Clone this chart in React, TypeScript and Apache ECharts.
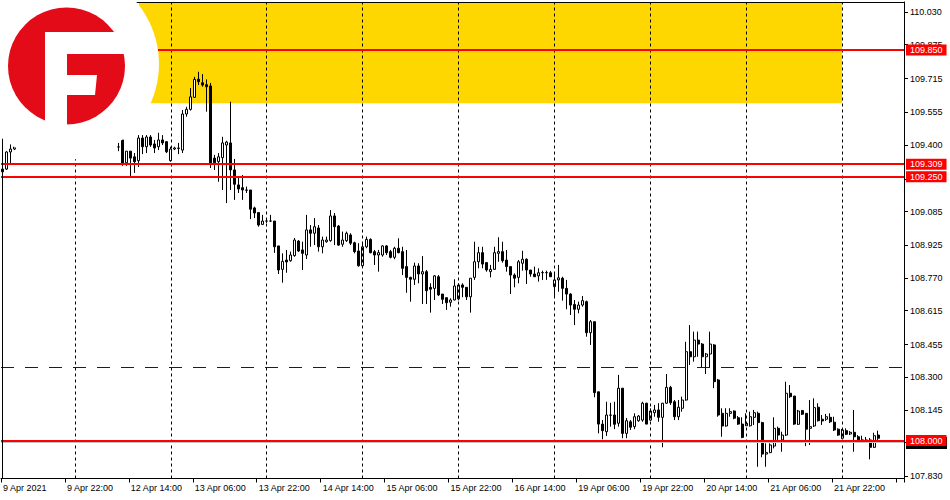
import React, { useEffect, useRef } from 'react';
import * as echarts from 'echarts';

// Trading days shown (H1 bars, first day starts at 06:00)
const DAYS = ['9 Apr', '12 Apr', '13 Apr', '14 Apr', '15 Apr', '16 Apr', '19 Apr', '20 Apr', '21 Apr', '22 Apr'];
const FIRST_HOUR = 6;
const BAR_COUNT = 226;

const TICK_LABELS = [
  '9 Apr 2021', '9 Apr 22:00', '12 Apr 14:00', '13 Apr 06:00', '13 Apr 22:00', '14 Apr 14:00',
  '15 Apr 06:00', '15 Apr 22:00', '16 Apr 14:00', '19 Apr 06:00', '19 Apr 22:00', '20 Apr 14:00',
  '21 Apr 06:00', '21 Apr 22:00',
];

// price scale ticks (all), and the ones whose labels are not hidden behind level tags
const PRICE_TICKS = [110.03, 109.875, 109.715, 109.555, 109.4, 109.24, 109.085, 108.925, 108.77, 108.615, 108.455, 108.3, 108.145, 107.99, 107.83];
const PRICE_LABELS = [110.03, 109.875, 109.715, 109.555, 109.4, 109.085, 108.925, 108.77, 108.615, 108.455, 108.3, 108.145, 107.83];

const RED_LEVELS = [109.85, 109.309, 109.25, 108.0];
const DASHED_LEVEL = 108.348;
const BID_LEVEL = 107.992;
const ZONE_LOW = 109.598;
const Y_MIN = 107.8203;
const Y_MAX = 110.0775;

const N = null;
const OPEN = [
  109.273, 109.286, 109.367, 109.381, N, N, N, N, N, N,
  N, N, N, N, N, N, N, N, N, N,
  N, N, N, N, N, N, N, N, N, 109.391,
  109.424, 109.316, 109.371, 109.344, 109.326, 109.433, 109.392, 109.438, 109.405, 109.392,
  109.424, 109.416, 109.326, 109.381, 109.384, 109.376, 109.547, 109.569, 109.626, 109.712,
  109.695, 109.686, 109.680, 109.338, 109.321, 109.340, 109.400, 109.410, 109.282, 109.211,
  109.198, 109.187, 109.187, 109.102, 109.080, 109.024, 109.040, 109.040, 109.040, 108.922,
  108.811, 108.855, 108.852, 108.876, 108.945, 108.903, 108.879, 108.998, 108.982, 109.007,
  108.918, 108.942, 108.947, 109.064, 109.016, 108.930, 108.947, 108.974, 108.937, 108.898,
  108.828, 108.918, 108.953, 108.895, 108.879, 108.879, 108.922, 108.895, 108.868, 108.911,
  108.895, 108.824, 108.773, 108.764, 108.827, 108.789, 108.800, 108.726, 108.721, 108.776,
  108.694, 108.677, 108.655, 108.666, 108.671, 108.737, 108.726, 108.681, 108.773, 108.847,
  108.890, 108.843, 108.800, 108.811, 108.887, 108.895, 108.855, 108.824, 108.784, 108.773,
  108.840, 108.859, 108.808, 108.789, 108.780, 108.795, 108.795, 108.795, 108.729, 108.761,
  108.769, 108.721, 108.694, 108.645, 108.622, 108.642, 108.658, 108.511, 108.563, 108.231,
  108.078, 108.042, 108.121, 108.121, 108.082, 108.248, 108.034, 108.089, 108.066, 108.094,
  108.097, 108.177, 108.097, 108.132, 108.145, 108.110, 108.177, 108.252, 108.184, 108.113,
  108.153, 108.192, 108.421, 108.397, 108.476, 108.457, 108.397, 108.410, 108.453, 108.287,
  108.129, 108.069, 108.129, 108.140, 108.108, 108.078, 108.070, 108.070, 108.110, 108.129,
  108.085, 107.936, 107.943, 107.974, 108.058, 108.003, 108.026, 108.224, 108.211, 108.077,
  108.142, 108.129, 108.058, 108.069, 108.158, 108.101, 108.101, 108.110, 108.087, 108.054,
  108.011, 108.047, 108.031, 108.039, 108.018, 108.003, 108.003, 108.003, 107.968, 108.026,
];
const CLOSE = [
  109.286, 109.367, 109.381, 109.391, N, N, N, N, N, N,
  N, N, N, N, N, N, N, N, N, N,
  N, N, N, N, N, N, N, N, N, 109.391,
  109.315, 109.371, 109.338, 109.321, 109.433, 109.392, 109.438, 109.400, 109.386, 109.424,
  109.410, 109.368, 109.381, 109.386, 109.386, 109.547, 109.569, 109.628, 109.711, 109.700,
  109.684, 109.676, 109.315, 109.316, 109.344, 109.410, 109.414, 109.282, 109.214, 109.192,
  109.187, 109.186, 109.096, 109.078, 109.021, 109.040, 109.040, 109.040, 108.918, 108.808,
  108.849, 108.846, 108.879, 108.950, 108.898, 108.887, 108.998, 108.982, 109.013, 108.918,
  108.950, 108.950, 109.064, 109.013, 108.926, 108.950, 108.982, 108.935, 108.895, 108.828,
  108.918, 108.953, 108.890, 108.879, 108.890, 108.922, 108.890, 108.868, 108.911, 108.890,
  108.816, 108.773, 108.764, 108.827, 108.789, 108.800, 108.710, 108.717, 108.780, 108.690,
  108.669, 108.653, 108.666, 108.732, 108.737, 108.726, 108.681, 108.769, 108.847, 108.890,
  108.836, 108.808, 108.811, 108.890, 108.895, 108.852, 108.824, 108.784, 108.769, 108.847,
  108.859, 108.808, 108.789, 108.776, 108.795, 108.796, 108.796, 108.776, 108.761, 108.771,
  108.721, 108.694, 108.642, 108.622, 108.642, 108.663, 108.511, 108.563, 108.227, 108.078,
  108.047, 108.121, 108.120, 108.077, 108.248, 108.034, 108.094, 108.063, 108.113, 108.116,
  108.177, 108.078, 108.140, 108.145, 108.110, 108.177, 108.252, 108.179, 108.113, 108.158,
  108.192, 108.421, 108.397, 108.476, 108.457, 108.397, 108.410, 108.457, 108.279, 108.121,
  108.069, 108.129, 108.137, 108.106, 108.078, 108.015, 108.082, 108.113, 108.132, 108.085,
  107.936, 107.943, 107.979, 108.058, 108.026, 108.026, 108.224, 108.208, 108.078, 108.140,
  108.125, 108.054, 108.066, 108.156, 108.094, 108.093, 108.113, 108.089, 108.050, 108.026,
  108.050, 108.030, 108.039, 108.018, 108.003, 108.001, 107.995, 107.968, 108.023, 108.011,
];
const LOW = [
  109.244, 109.282, 109.315, 109.376, N, N, N, N, N, N,
  N, N, N, N, N, N, N, N, N, N,
  N, N, N, N, N, N, N, N, N, 109.371,
  109.301, 109.301, 109.244, 109.268, 109.296, 109.357, 109.362, 109.391, 109.362, 109.376,
  109.400, 109.362, 109.321, 109.376, 109.357, 109.362, 109.534, 109.563, 109.623, 109.684,
  109.676, 109.558, 109.291, 109.282, 109.226, 109.187, 109.125, 109.187, 109.140, 109.173,
  109.140, 109.173, 109.049, 109.054, 109.013, 109.021, 109.031, 109.035, 108.889, 108.789,
  108.748, 108.795, 108.847, 108.871, 108.893, 108.808, 108.860, 108.918, 108.926, 108.895,
  108.887, 108.937, 108.942, 108.926, 108.922, 108.918, 108.941, 108.926, 108.887, 108.824,
  108.824, 108.911, 108.887, 108.832, 108.800, 108.871, 108.879, 108.863, 108.859, 108.887,
  108.784, 108.700, 108.658, 108.737, 108.745, 108.647, 108.647, 108.606, 108.666, 108.685,
  108.647, 108.619, 108.634, 108.664, 108.664, 108.679, 108.666, 108.606, 108.761, 108.816,
  108.816, 108.800, 108.773, 108.808, 108.847, 108.843, 108.800, 108.694, 108.726, 108.745,
  108.805, 108.742, 108.776, 108.775, 108.753, 108.761, 108.761, 108.775, 108.685, 108.705,
  108.663, 108.622, 108.595, 108.547, 108.603, 108.634, 108.492, 108.453, 108.205, 108.034,
  108.006, 108.022, 108.066, 108.054, 108.066, 108.011, 108.011, 108.050, 108.054, 108.089,
  108.089, 108.077, 108.093, 108.113, 108.089, 107.968, 108.173, 108.169, 108.097, 108.097,
  108.137, 108.189, 108.358, 108.374, 108.397, 108.347, 108.315, 108.347, 108.248, 108.113,
  108.018, 108.066, 108.113, 108.101, 108.074, 108.011, 108.069, 108.066, 108.074, 107.876,
  107.921, 107.876, 107.940, 107.963, 107.999, 107.947, 108.022, 108.202, 108.074, 108.074,
  108.121, 107.974, 107.979, 108.064, 108.090, 108.074, 108.093, 108.083, 108.045, 108.022,
  108.007, 108.026, 108.026, 107.947, 107.998, 107.995, 107.989, 107.911, 107.965, 107.990,
];
const HIGH = [
  109.301, 109.371, 109.410, 109.400, N, N, N, N, N, N,
  N, N, N, N, N, N, N, N, N, N,
  N, N, N, N, N, N, N, N, N, 109.410,
  109.424, 109.371, 109.371, 109.362, 109.447, 109.447, 109.447, 109.447, 109.424, 109.458,
  109.447, 109.419, 109.392, 109.392, 109.410, 109.566, 109.581, 109.670, 109.723, 109.747,
  109.736, 109.711, 109.694, 109.353, 109.362, 109.439, 109.420, 109.605, 109.334, 109.249,
  109.258, 109.203, 109.187, 109.108, 109.080, 109.069, 109.054, 109.069, 109.040, 108.922,
  108.887, 108.903, 108.895, 108.960, 108.950, 108.942, 109.069, 109.021, 109.054, 109.021,
  108.966, 108.966, 109.092, 109.078, 109.021, 108.990, 108.990, 108.982, 108.942, 108.935,
  108.935, 108.966, 108.958, 108.903, 108.903, 108.925, 108.926, 108.903, 108.918, 108.958,
  108.918, 108.903, 108.776, 108.843, 108.840, 108.874, 108.808, 108.745, 108.784, 108.784,
  108.694, 108.677, 108.674, 108.764, 108.745, 108.745, 108.726, 108.769, 108.942, 108.918,
  108.918, 108.843, 108.832, 108.918, 108.963, 108.942, 108.903, 108.824, 108.792, 108.855,
  108.899, 108.863, 108.808, 108.824, 108.816, 108.805, 108.805, 108.803, 108.789, 108.832,
  108.776, 108.761, 108.698, 108.666, 108.658, 108.685, 108.663, 108.571, 108.563, 108.231,
  108.097, 108.184, 108.179, 108.184, 108.311, 108.249, 108.107, 108.097, 108.129, 108.121,
  108.184, 108.179, 108.153, 108.169, 108.177, 108.178, 108.315, 108.259, 108.192, 108.192,
  108.208, 108.468, 108.547, 108.516, 108.516, 108.462, 108.415, 108.516, 108.457, 108.292,
  108.153, 108.153, 108.153, 108.143, 108.116, 108.110, 108.129, 108.137, 108.145, 108.137,
  108.089, 107.987, 107.987, 108.110, 108.066, 108.042, 108.279, 108.263, 108.211, 108.145,
  108.145, 108.129, 108.192, 108.200, 108.177, 108.121, 108.126, 108.129, 108.113, 108.058,
  108.055, 108.058, 108.045, 108.145, 108.026, 108.023, 108.017, 108.012, 108.037, 108.047,
];

function buildCategories(): string[] {
  const out: string[] = [];
  for (let d = 0; d < DAYS.length && out.length < BAR_COUNT; d++) {
    for (let h = d === 0 ? FIRST_HOUR : 0; h < 24 && out.length < BAR_COUNT; h++) {
      out.push(`${DAYS[d]} ${String(h).padStart(2, '0')}:00`);
    }
  }
  return out;
}

const FONT = 'Liberation Sans';

export default function App() {
  const ref = useRef<HTMLDivElement>(null);

  useEffect(() => {
    if (!ref.current) return;
    const chart = echarts.init(ref.current, null, { renderer: 'svg' });
    const categories = buildCategories();
    const candles = categories.map((_, i) =>
      i >= OPEN.length || OPEN[i] == null ? ['-', '-', '-', '-'] : [OPEN[i], CLOSE[i], LOW[i], HIGH[i]]
    );
    const dayStarts = categories.filter((c, i) => i > 0 && c.endsWith(' 00:00'));

    const levelLabel = (bg: string) => ({
      show: true,
      position: 'end',
      distance: 2,
      formatter: (p: any) => Number(p.value).toFixed(3),
      color: '#ffffff',
      backgroundColor: bg,
      padding: [1, 4, 0, 4],
      fontSize: 9,
      lineHeight: 10,
      fontFamily: FONT,
    });

    const option: any = {
      animation: false,
      backgroundColor: '#ffffff',
      grid: { left: 1, top: 2, width: 903, height: 476.5, show: false },
      xAxis: {
        type: 'category',
        data: categories,
        boundaryGap: true,
        axisLine: { show: true, lineStyle: { color: '#000', width: 1 } },
        axisTick: { show: true, interval: 15, length: 4, lineStyle: { color: '#000' } },
        axisLabel: {
          interval: 15,
          formatter: (_v: string, i: number) => TICK_LABELS[i / 16] ?? '',
          align: 'left',
          color: '#000',
          fontSize: 9,
          fontFamily: FONT,
          margin: 5,
        },
        splitLine: { show: false },
      },
      yAxis: {
        type: 'value',
        position: 'right',
        min: Y_MIN,
        max: Y_MAX,
        axisLine: { show: true, lineStyle: { color: '#000', width: 1 } },
        axisTick: { show: true, length: 4, customValues: PRICE_TICKS, lineStyle: { color: '#000' } },
        axisLabel: {
          customValues: PRICE_LABELS,
          formatter: (v: number) => v.toFixed(3),
          color: '#000',
          fontSize: 9,
          fontFamily: FONT,
          margin: 6,
        },
        splitLine: { show: false },
      },
      series: [
        {
          type: 'line',
          data: [],
          z: 1,
          silent: true,
          markArea: {
            silent: true,
            itemStyle: { color: '#ffd700' },
            data: [[{ xAxis: 33.5, yAxis: ZONE_LOW }, { xAxis: 210, yAxis: Y_MAX }]],
          },
        },
        {
          type: 'line',
          data: [],
          z: 2,
          silent: true,
          markLine: {
            silent: true,
            symbol: ['none', 'none'],
            label: { show: false },
            lineStyle: { color: '#000', type: [3, 3], width: 1 },
            data: dayStarts.map((c) => ({ xAxis: c })),
          },
        },
        {
          type: 'candlestick',
          z: 3,
          data: candles,
          barWidth: 2.5,
          itemStyle: {
            color: '#ffffff',
            color0: '#000000',
            borderColor: '#000000',
            borderColor0: '#000000',
            borderWidth: 1,
          },
        },
        {
          type: 'line',
          data: [],
          z: 5,
          silent: true,
          clip: false,
          markLine: {
            silent: true,
            precision: 3,
            symbol: ['none', 'none'],
            data: [
              { yAxis: BID_LEVEL, lineStyle: { color: '#c0c0c0', width: 1, type: 'solid' }, label: { show: false } },
              { yAxis: DASHED_LEVEL, lineStyle: { color: '#0000ff', width: 1, type: [13, 11] }, label: { show: false } },
              ...RED_LEVELS.map((v) => ({
                yAxis: v,
                lineStyle: { color: '#ff0000', width: 2, type: 'solid' },
                label: levelLabel('#ff0000'),
              })),
            ],
          },
        },
      ],
      graphic: [
        // hidden bid-price tag peeking out below the 108.000 tag
        { type: 'rect', z: 4, shape: { x: 906, y: 437, width: 41, height: 12 }, style: { fill: '#000000' } },
        { type: 'line', z: 50, shape: { x1: 2.5, y1: 2, x2: 2.5, y2: 478.5 }, style: { stroke: '#000', lineWidth: 1 } },
        { type: 'line', z: 50, shape: { x1: 2, y1: 2.5, x2: 904, y2: 2.5 }, style: { stroke: '#000', lineWidth: 1 } },
        { type: 'circle', z: 100, shape: { cx: 63, cy: 64, r: 96 }, style: { fill: '#ffffff' } },
        { type: 'circle', z: 101, shape: { cx: 66.5, cy: 66, r: 58.5 }, style: { fill: '#e30b17' } },
        { type: 'rect', z: 102, shape: { x: 45, y: 32, width: 22, height: 96 }, style: { fill: '#ffffff' } },
        { type: 'rect', z: 102, shape: { x: 45, y: 32, width: 83, height: 22 }, style: { fill: '#ffffff' } },
        { type: 'polygon', z: 102, shape: { points: [[67, 75], [97, 75], [95, 95], [67, 95]] }, style: { fill: '#ffffff' } },
      ],
    };

    chart.setOption(option);
    return () => chart.dispose();
  }, []);

  return (
    <div
      ref={ref}
      style={{ position: 'fixed', left: 0, top: 0, width: 950, height: 500, background: '#ffffff' }}
    />
  );
}
